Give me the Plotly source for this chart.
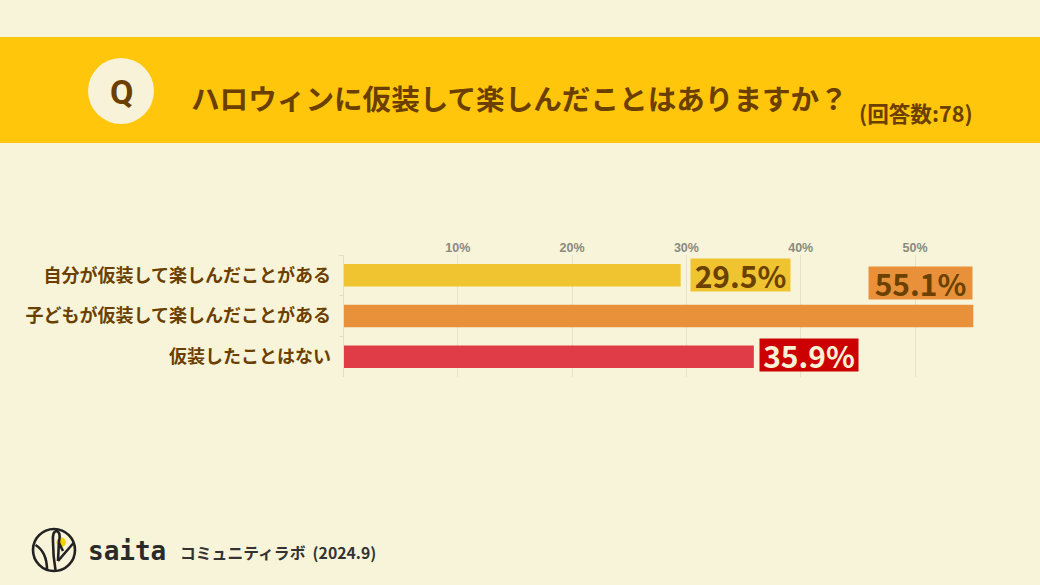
import plotly.graph_objects as go

# ---- data ----
categories = ["自分が仮装して楽しんだことがある", "子どもが仮装して楽しんだことがある", "仮装したことはない"]
values = [29.5, 55.1, 35.9]
value_labels = ["29.5%", "55.1%", "35.9%"]
tick_values = [10, 20, 30, 40, 50]
tick_labels = ["10%", "20%", "30%", "40%", "50%"]
title_text = "ハロウィンに仮装して楽しんだことはありますか？"
n_text = "(回答数:78)"

# ---- styles ----
W, H = 1040, 585
BG = "#F7F4D9"
HEADER = "#FFC60B"
BROWN = "#6B3F00"
bar_colors = ["#F0C330", "#E8913A", "#E03C47"]
label_bg = ["#F0C330", "#E8913A", "#CC0000"]
label_fg = ["#6B4100", "#6B4100", "#F7F1D6"]
JP = "Noto Sans CJK JP"

# plot area in pixels
PX0, PX1 = 343.5, 975
PY0, PY1 = 255, 377

fig = go.Figure()
fig.add_trace(go.Bar(
    x=values, y=categories, orientation="h",
    marker=dict(color=bar_colors, line=dict(width=0)),
    width=0.555, hoverinfo="skip", showlegend=False,
))

# overlay pixel axes for decorations
fig.add_trace(go.Scatter(x=[0], y=[0], xaxis="x2", yaxis="y2", mode="markers",
                         marker=dict(opacity=0), hoverinfo="skip", showlegend=False))

xmax = (PX1 - PX0) / 11.43

fig.update_layout(
    width=W, height=H,
    margin=dict(l=0, r=0, t=0, b=0),
    paper_bgcolor=BG, plot_bgcolor="rgba(0,0,0,0)",
    xaxis=dict(
        domain=[PX0 / W, PX1 / W], range=[0, xmax], side="top",
        tickvals=tick_values, ticktext=tick_labels,
        showgrid=True, gridcolor="#E4E1C6", gridwidth=1,
        zeroline=False, showline=False, ticks="",
        tickfont=dict(family="Liberation Sans", size=12.5, color="#8A8A80", weight="bold"),
        fixedrange=True,
    ),
    yaxis=dict(
        domain=[1 - PY1 / H, 1 - PY0 / H],
        categoryorder="array", categoryarray=categories,
        range=[2.5, -0.5], type="category",
        showline=True, linecolor="#E2DFC8", linewidth=1,
        ticks="outside", ticklen=4, tickcolor="#E2DFC8", tickson="boundaries",
        ticklabelstandoff=8,
        tickfont=dict(family=JP, size=18, color=BROWN, weight="bold"),
        showgrid=False, zeroline=False, fixedrange=True,
    ),
    xaxis2=dict(domain=[0, 1], range=[0, W], visible=False, fixedrange=True, anchor="y2"),
    yaxis2=dict(domain=[0, 1], range=[H, 0], visible=False, fixedrange=True, anchor="x2"),
)

shapes = []
# header band
shapes.append(dict(type="rect", xref="x2", yref="y2", x0=0, x1=W, y0=37, y1=143,
                   fillcolor=HEADER, line=dict(width=0), layer="below"))
# Q circle
shapes.append(dict(type="circle", xref="x2", yref="y2", x0=88, x1=154, y0=58, y1=124,
                   fillcolor="#F8F3D8", line=dict(width=0), layer="below"))
# logo
shapes.append(dict(type="circle", xref="x2", yref="y2", x0=56.5, x1=66, y0=537.5, y1=547,
                   fillcolor="#F5D000", line=dict(width=0), layer="above"))
logo_line = dict(color="#222222", width=2.6)
shapes.append(dict(type="circle", xref="x2", yref="y2", x0=33, x1=75, y0=529, y1=571,
                   line=logo_line, layer="above"))
shapes.append(dict(type="path", xref="x2", yref="y2",
                   path="M 35.5,545 Q 47,552 47,570", line=logo_line, layer="above"))
shapes.append(dict(type="path", xref="x2", yref="y2",
                   path="M 55.5,570 Q 53,556 53,542 Q 52,531 57,531 Q 61,533 59,541 L 58,561",
                   line=logo_line, layer="above"))
shapes.append(dict(type="path", xref="x2", yref="y2",
                   path="M 58,561 L 73.5,543", line=logo_line, layer="above"))
shapes.append(dict(type="path", xref="x2", yref="y2",
                   path="M 59,543 L 63,551", line=logo_line, layer="above"))
fig.update_layout(shapes=shapes)

annotations = []
# Q letter
annotations.append(dict(xref="x2", yref="y2", x=121, y=92, text="<b>Q</b>", showarrow=False,
                        font=dict(family="Roboto", size=34, color=BROWN)))
# title
annotations.append(dict(xref="x2", yref="y2", x=189, y=97, xanchor="left", yanchor="middle",
                        text=title_text, showarrow=False,
                        font=dict(family=JP, size=28.6, color=BROWN, weight="bold")))
annotations.append(dict(xref="x2", yref="y2", x=857, y=112, xanchor="left", yanchor="middle",
                        text=n_text, showarrow=False,
                        font=dict(family=JP, size=21.6, color=BROWN, weight="bold")))
# value labels
shifts = [(9, 0, "left", 97), (0, 33, "right", 101), (5, 2, "left", 96)]
for i, (v, lab) in enumerate(zip(values, value_labels)):
    dx, dy, anc, bw = shifts[i]
    annotations.append(dict(
        xref="x", yref="y", x=v, y=categories[i], xanchor=anc, yanchor="middle",
        xshift=dx, yshift=dy, text=lab, showarrow=False,
        bgcolor=label_bg[i], borderpad=1, width=bw, height=30, valign="middle",
        font=dict(family=JP, size=30, color=label_fg[i], weight="bold"),
    ))
# footer
annotations.append(dict(xref="x2", yref="y2", x=86, y=551, xanchor="left", yanchor="middle",
                        text="<b>saita</b>", showarrow=False,
                        font=dict(family="DejaVu Sans Mono", size=26, color="#2A2A2A")))
annotations.append(dict(xref="x2", yref="y2", x=178, y=552, xanchor="left", yanchor="middle",
                        text="コミュニティラボ  (2024.9)", showarrow=False,
                        font=dict(family=JP, size=15.8, color="#333333", weight="bold")))
fig.update_layout(annotations=annotations)

fig.write_html("out.html", config={"displayModeBar": False},
               post_script="document.body.style.margin='0';")
